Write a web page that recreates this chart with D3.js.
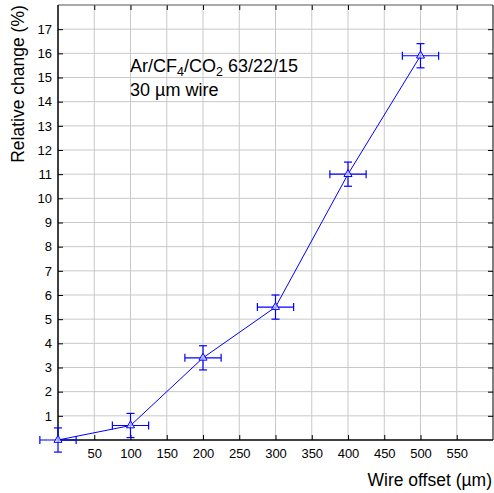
<!DOCTYPE html>
<html>
<head>
<meta charset="utf-8">
<script src="https://cdn.jsdelivr.net/npm/d3@7"></script>
<style>
  html, body { margin: 0; padding: 0; background: #fff; }
  svg { display: block; font-family: "Liberation Sans", Arial, sans-serif; }
</style>
</head>
<body>
<svg id="chart" width="494" height="493"></svg>
<script>
// Wire offset (µm) and relative change (%) with uncertainties
const offsets = [0, 100, 200, 300, 400, 500];
const relChange = [0.0, 0.6, 3.4, 5.5, 11.0, 15.9];
const yErr = [0.5, 0.5, 0.5, 0.5, 0.5, 0.5];
const xErr = [25, 25, 25, 25, 25, 25];

const xTickValues = [50, 100, 150, 200, 250, 300, 350, 400, 450, 500, 550];
const yTickValues = [1, 2, 3, 4, 5, 6, 7, 8, 9, 10, 11, 12, 13, 14, 15, 16, 17];

const svg = d3.select("#chart");
const plotL = 58, plotR = 493, plotT = 5, plotB = 440;
const font = "'Liberation Sans', Arial, sans-serif";

const x = d3.scaleLinear().domain([0, 600]).range([plotL, plotR]);
const y = d3.scaleLinear().domain([0, 18]).range([plotB, plotT]);

const blue = "#0000ff";

// Grid
const grid = svg.append("g").attr("stroke", "#c8c8c8").attr("stroke-width", 1);
grid.selectAll("line.gx").data(xTickValues).join("line")
  .attr("class", "gx")
  .attr("x1", d => x(d)).attr("x2", d => x(d))
  .attr("y1", plotT).attr("y2", plotB);
grid.selectAll("line.gy").data(yTickValues).join("line")
  .attr("class", "gy")
  .attr("x1", plotL).attr("x2", plotR)
  .attr("y1", d => y(d)).attr("y2", d => y(d));

// Axes with inward ticks
const tickLen = 5;
const xAxis = svg.append("g").attr("transform", `translate(0,${plotB})`)
  .call(d3.axisBottom(x).tickValues(xTickValues).tickSizeInner(-tickLen).tickSizeOuter(0).tickPadding(9));
const yAxis = svg.append("g").attr("transform", `translate(${plotL},0)`)
  .call(d3.axisLeft(y).tickValues(yTickValues).tickSizeInner(-tickLen).tickSizeOuter(0).tickPadding(6));
const xTop = svg.append("g").attr("transform", `translate(0,${plotT})`)
  .call(d3.axisTop(x).tickValues(xTickValues).tickSizeInner(-tickLen).tickSizeOuter(0).tickFormat(""));
const yRight = svg.append("g").attr("transform", `translate(${plotR},0)`)
  .call(d3.axisRight(y).tickValues(yTickValues).tickSizeInner(-tickLen).tickSizeOuter(0).tickFormat(""));

[xAxis, yAxis, xTop, yRight].forEach(g => {
  g.attr("font-family", font);
  g.select(".domain").remove();
  g.selectAll(".tick line").attr("stroke", "#000");
  g.selectAll(".tick text").attr("font-size", 13).attr("fill", "#000");
});

// Frame
svg.append("line").attr("x1", plotL).attr("x2", plotR).attr("y1", plotT).attr("y2", plotT).attr("stroke", "#555");
svg.append("line").attr("x1", plotR).attr("x2", plotR).attr("y1", plotT).attr("y2", plotB).attr("stroke", "#000");
svg.append("line").attr("x1", plotL).attr("x2", plotR).attr("y1", plotB).attr("y2", plotB).attr("stroke", "#000").attr("stroke-width", 1.5);
svg.append("line").attr("x1", plotL).attr("x2", plotL).attr("y1", plotT).attr("y2", plotB).attr("stroke", "#000").attr("stroke-width", 1.5);

const pts = offsets.map((o, i) => ({ x: o, y: relChange[i], ex: xErr[i], ey: yErr[i] }));

// Connecting line
svg.append("path")
  .datum(pts)
  .attr("fill", "none")
  .attr("stroke", blue)
  .attr("stroke-width", 1)
  .attr("d", d3.line().x(d => x(d.x)).y(d => y(d.y)));

// Error bars
const cap = 4;
const eb = svg.append("g").attr("stroke", blue).attr("stroke-width", 1.2).attr("fill", "none");
pts.forEach(d => {
  const cx = x(d.x), cy = y(d.y);
  const y1 = y(d.y + d.ey), y2 = y(d.y - d.ey);
  const x1 = x(d.x - d.ex), x2 = x(d.x + d.ex);
  eb.append("line").attr("x1", cx).attr("x2", cx).attr("y1", y1).attr("y2", y2);
  eb.append("line").attr("x1", cx - cap).attr("x2", cx + cap).attr("y1", y1).attr("y2", y1);
  eb.append("line").attr("x1", cx - cap).attr("x2", cx + cap).attr("y1", y2).attr("y2", y2);
  eb.append("line").attr("x1", x1).attr("x2", x2).attr("y1", cy).attr("y2", cy);
  eb.append("line").attr("x1", x1).attr("x2", x1).attr("y1", cy - cap).attr("y2", cy + cap);
  eb.append("line").attr("x1", x2).attr("x2", x2).attr("y1", cy - cap).attr("y2", cy + cap);
});

// Open triangle markers
svg.append("g").selectAll("path").data(pts).join("path")
  .attr("transform", d => `translate(${x(d.x)},${y(d.y)})`)
  .attr("d", d3.symbol(d3.symbolTriangle, 28))
  .attr("fill", "#fff")
  .attr("fill-opacity", 0.6)
  .attr("stroke", blue)
  .attr("stroke-width", 1);

// Axis titles
svg.append("text")
  .attr("transform", "translate(24,84) rotate(-90)")
  .attr("text-anchor", "middle")
  .attr("font-family", font)
  .attr("font-size", 17.5)
  .text("Relative change (%)");

svg.append("text")
  .attr("x", 492).attr("y", 486)
  .attr("text-anchor", "end")
  .attr("font-family", font)
  .attr("font-size", 17.5)
  .text("Wire offset (\u00b5m)");

// Gas mixture annotation
const ann = svg.append("text").attr("x", 130).attr("y", 72).attr("font-family", font).attr("font-size", 18);
ann.append("tspan").text("Ar/CF");
ann.append("tspan").attr("font-size", 12.5).attr("dy", 4).text("4");
ann.append("tspan").attr("dy", -4).text("/CO");
ann.append("tspan").attr("font-size", 12.5).attr("dy", 4).text("2");
ann.append("tspan").attr("dy", -4).text(" 63/22/15");
svg.append("text").attr("x", 130).attr("y", 96).attr("font-family", font).attr("font-size", 18).text("30 \u00b5m wire");
</script>
</body>
</html>
